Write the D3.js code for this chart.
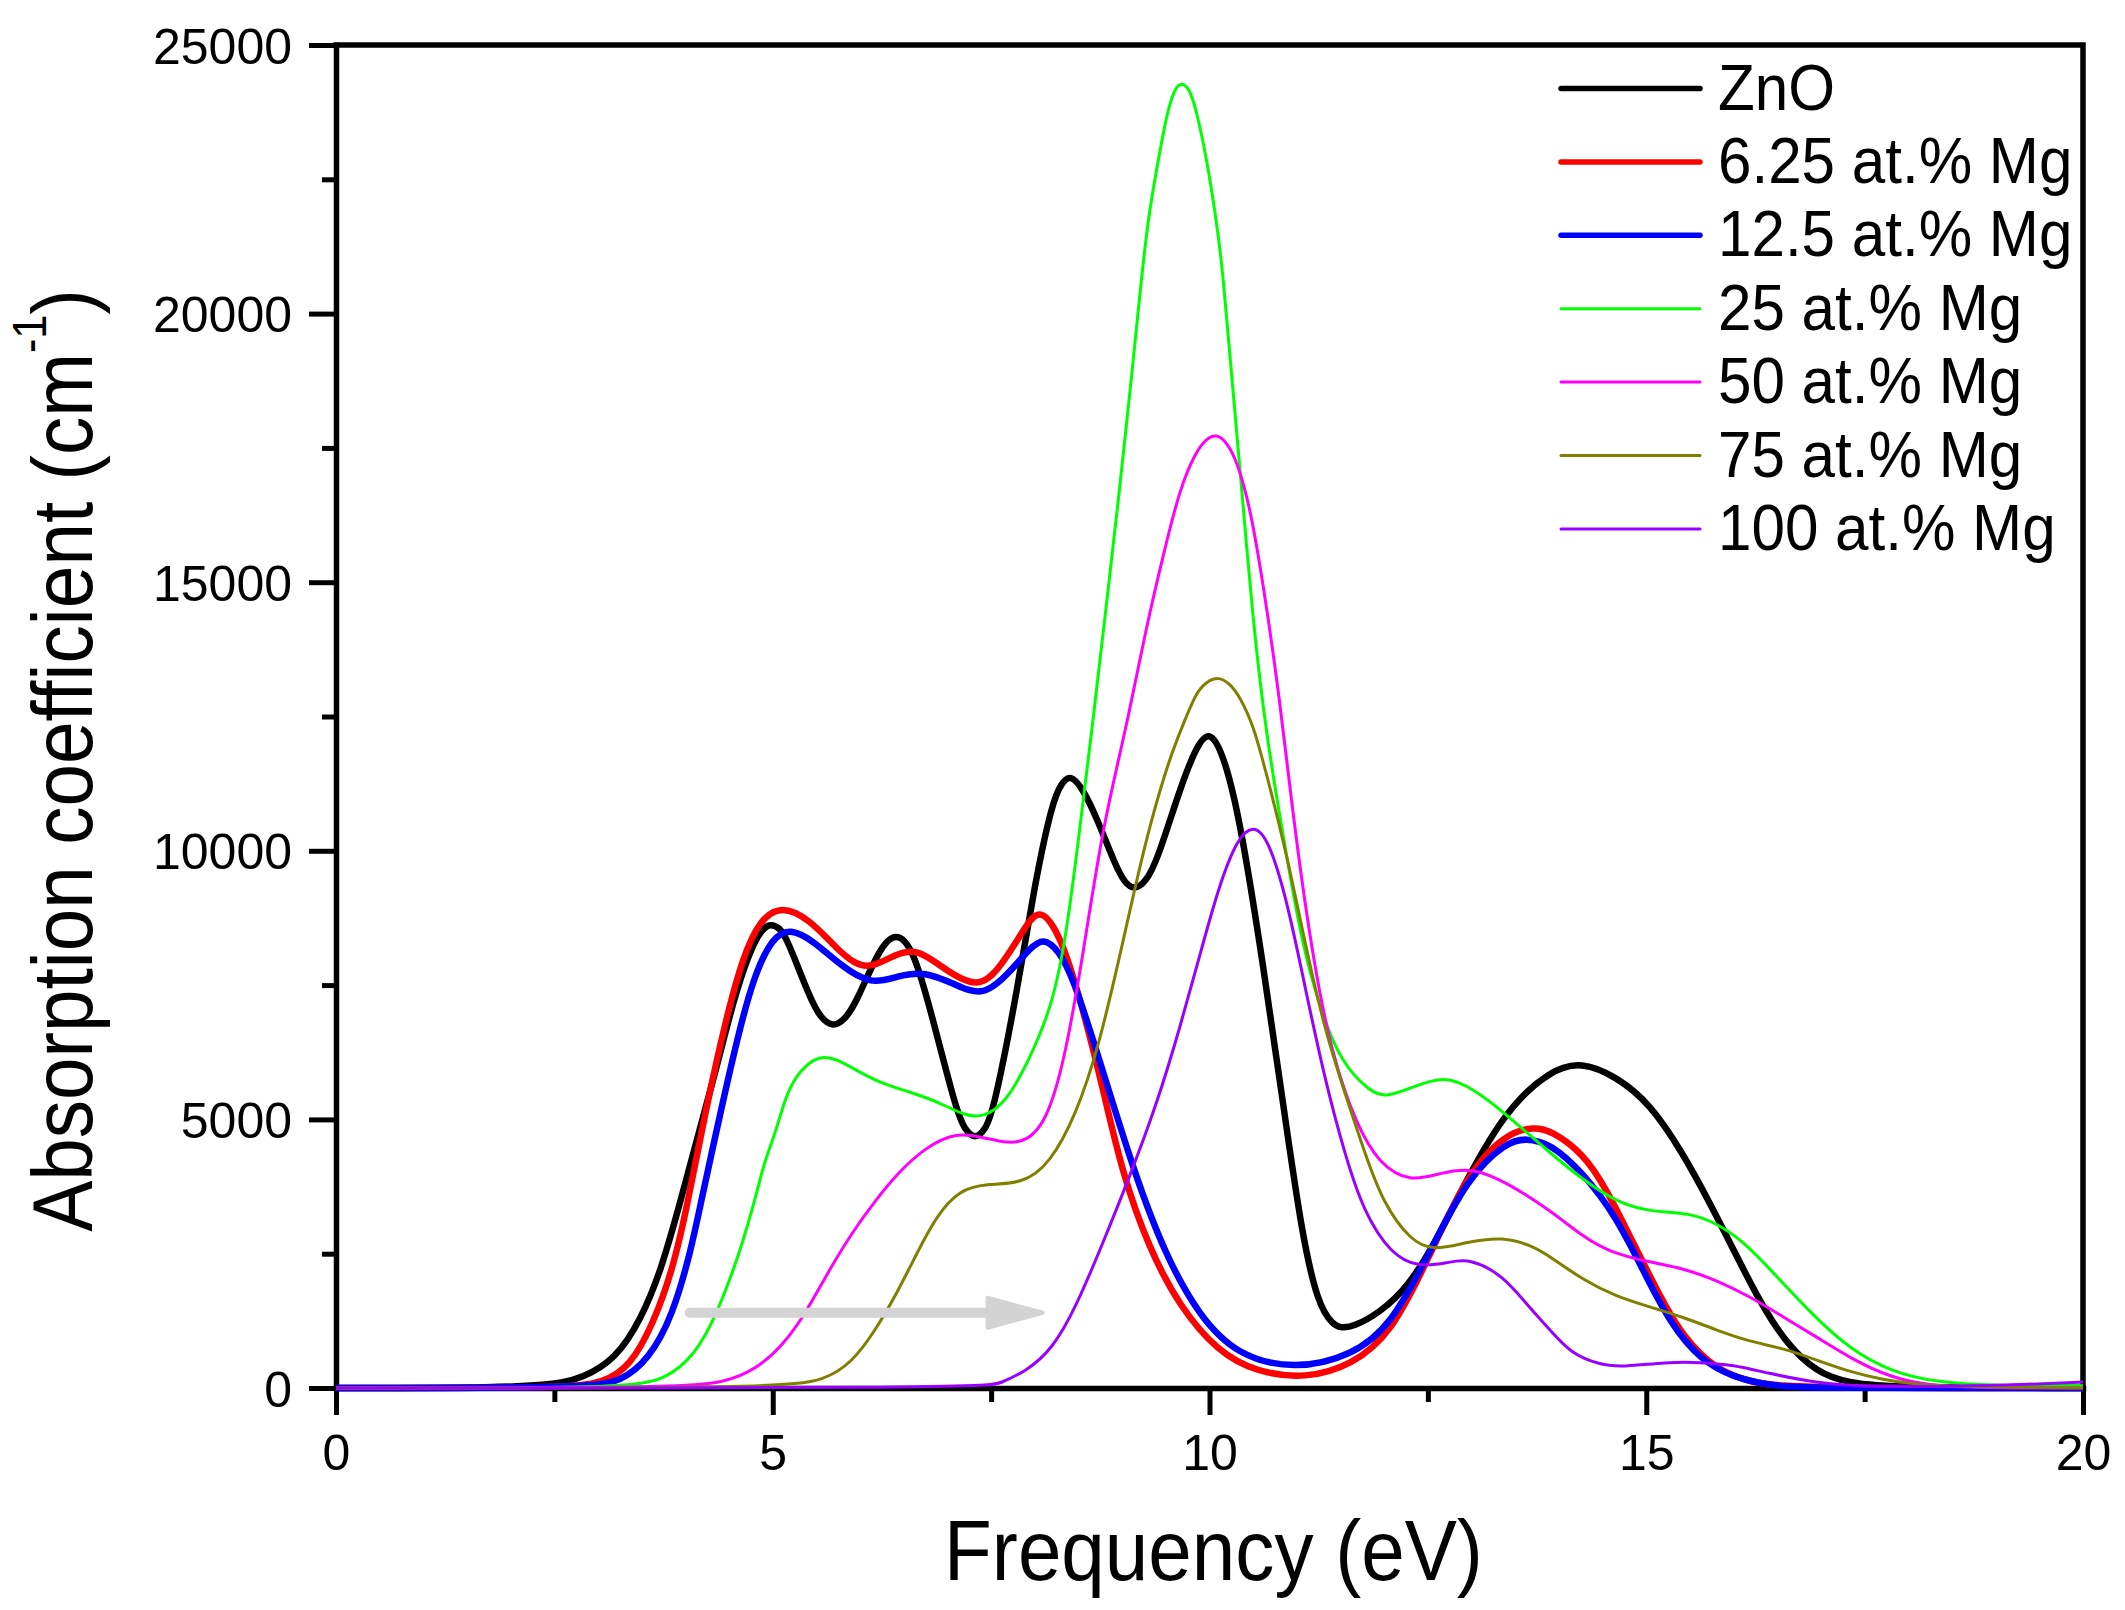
<!DOCTYPE html>
<html lang="en">
  <head>
    <meta charset="utf-8">
    <title>Absorption coefficient - ZnO / Mg</title>
    <script src="https://d3js.org/d3.v7.min.js" charset="utf-8"></script>
    <style>
      body { margin: 0; background: #fff; }
      text { font-family: "Liberation Sans", Arial, sans-serif; fill: #000; }
    </style>
  </head>
  <body>
    <div id="dataviz"></div>
  <script type="text/javascript">
    // [frequency (eV), absorption coefficient (cm^-1)]
    var seriesNames = ["ZnO", "6.25 at.% Mg", "12.5 at.% Mg", "25 at.% Mg", "50 at.% Mg", "75 at.% Mg", "100 at.% Mg"];
    var seriesColors = ["#000000", "#ff0000", "#0000ff", "#00ff00", "#ff00ff", "#808000", "#9900ff"];
    var seriesWidths = [6.5, 6.5, 6.5, 3, 3, 3, 3];

    var zno = [[0,0],[2.4,0],[2.84,190],[3.2,540],[3.49,1270],[3.72,2180],[3.94,3450],[4.17,4860],[4.36,5980],
      [4.55,7220],[4.74,8150],[4.88,8555],[4.98,8640],[5.08,8560],[5.16,8380],[5.42,7280],[5.55,6880],[5.69,6720],
      [5.82,6850],[5.95,7150],[6.22,8190],[6.41,8500],[6.61,8190],[6.83,6890],[7.1,5170],[7.2,4800],[7.32,4630],
      [7.43,4800],[7.53,5170],[7.8,7400],[8.0,9400],[8.2,10900],[8.3,11250],[8.41,11430],[8.55,11150],[8.7,10650],
      [8.92,9740],[9.03,9400],[9.14,9270],[9.27,9420],[9.4,9810],[9.66,11150],[9.85,11950],[10.01,12270],
      [10.18,11700],[10.36,10480],[10.62,7820],[10.84,5320],[11.06,2830],[11.24,1580],[11.4,1180],[11.59,1040],
      [12.3,1750],[12.87,3670],[13.38,5160],[13.9,5920],[14.26,6075],[14.66,5795],[15.04,5300],[15.42,4370],
      [15.73,3440],[16.0,2570],[16.27,1700],[16.57,890],[16.95,280],[17.33,90],[17.8,10],[20,0]];

    var mg625 = [[0,0],[2.6,0],[3.06,90],[3.37,410],[3.63,1190],[3.85,2180],[4.01,3300],[4.24,5240],[4.47,6910],
      [4.66,8030],[4.85,8710],[5.1,8990],[5.43,8710],[5.69,8250],[5.95,7860],[6.15,7840],[6.39,8060],[6.65,8190],
      [6.96,7800],[7.36,7410],[7.62,7860],[7.89,8580],[7.98,8780],[8.08,8850],[8.2,8650],[8.35,8150],[8.56,7000],
      [8.78,5580],[9.0,4000],[9.31,2590],[9.66,1510],[10.1,670],[10.53,300],[11.1,170],[11.63,430],[12.08,1010],
      [12.51,2420],[12.95,4000],[13.4,4750],[13.72,4860],[13.9,4800],[14.28,4370],[14.55,3690],[14.85,2700],
      [15.16,1700],[15.42,950],[15.8,340],[16.19,110],[16.6,0],[20,0]];

    var mg125 = [[0,0],[2.8,0],[3.27,110],[3.58,540],[3.85,1320],[4.07,2600],[4.17,3400],[4.4,5120],[4.59,6480],
      [4.78,7660],[5.0,8400],[5.2,8560],[5.47,8320],[5.78,7860],[6.13,7500],[6.43,7670],[6.74,7760],[7.1,7500],
      [7.41,7280],[7.71,7730],[7.95,8200],[8.1,8380],[8.27,8150],[8.44,7650],[8.78,5900],[9.14,4000],[9.49,2490],
      [9.88,1340],[10.32,600],[10.98,340],[11.63,600],[12.08,1170],[12.51,2490],[12.95,3910],[13.4,4580],
      [13.62,4650],[13.9,4560],[14.28,4000],[14.66,3180],[14.96,2200],[15.27,1210],[15.62,520],[16.0,190],
      [16.5,20],[17,0],[20,0]];

    var mg25 = [[0,0],[3.3,0],[3.77,150],[4.11,610],[4.37,1400],[4.64,2600],[4.82,3650],[4.89,4120],[4.97,4490],
      [5.05,4860],[5.16,5490],[5.31,5920],[5.57,6260],[5.91,5960],[6.22,5680],[6.57,5510],[6.92,5310],[7.18,5080],
      [7.41,5030],[7.67,5310],[7.93,6090],[8.19,7070],[8.35,8300],[8.5,10200],[8.65,12200],[8.8,14300],
      [8.97,16700],[9.13,19170],[9.28,21620],[9.38,22550],[9.51,23730],[9.6,24190],[9.68,24310],[9.77,24190],
      [9.85,23790],[9.97,22860],[10.06,21930],[10.14,21000],[10.23,19270],[10.35,17100],[10.5,14200],
      [10.66,12040],[10.84,10310],[11.06,8230],[11.28,7000],[11.5,6070],[11.85,5490],[12.03,5420],[12.3,5580],
      [12.69,5830],[13.04,5550],[13.38,5120],[13.9,4370],[14.28,3870],[14.66,3460],[15.04,3280],[15.5,3260],
      [15.8,3070],[16.1,2750],[16.5,2070],[16.88,1400],[17.33,720],[17.81,300],[18.3,110],[19,40],[20,40]];

    var mg50 = [[0,0],[3.9,0],[4.47,110],[4.81,350],[5.12,800],[5.38,1400],[5.64,2180],[5.91,2900],[6.17,3480],
      [6.43,4000],[6.74,4470],[7.1,4770],[7.44,4650],[7.84,4500],[8.13,4910],[8.35,6160],[8.56,8150],[8.78,10480],
      [9.05,12300],[9.28,14200],[9.47,15500],[9.66,16750],[9.85,17450],[9.97,17680],[10.08,17760],[10.2,17600],
      [10.31,17270],[10.46,16440],[10.61,15020],[10.8,12900],[10.98,10310],[11.2,7820],[11.41,6160],[11.68,4910],
      [11.94,4170],[12.3,3830],[12.64,4000],[13.0,4110],[13.4,3830],[13.9,3310],[14.28,2810],[14.58,2530],
      [15.04,2340],[15.42,2230],[15.8,2010],[16.19,1700],[16.57,1320],[16.95,950],[17.33,560],[17.81,180],
      [18.3,30],[19,0],[20,0]];

    var mg75 = [[0,0],[5.1,0],[5.6,150],[5.91,480],[6.17,1060],[6.43,1790],[6.65,2510],[6.88,3220],[7.14,3690],
      [7.44,3800],[7.86,3800],[8.17,4170],[8.47,5080],[8.73,6330],[9.0,8230],[9.26,10150],[9.52,11630],[9.7,12360],
      [9.85,12960],[9.97,13150],[10.1,13240],[10.23,13120],[10.35,12860],[10.5,12350],[10.65,11450],[10.89,9900],
      [11.1,8230],[11.32,6660],[11.55,5490],[11.77,4410],[11.99,3430],[12.3,2750],[12.56,2550],[12.95,2720],
      [13.36,2820],[13.72,2630],[13.9,2440],[14.28,2010],[14.66,1700],[15.04,1510],[15.42,1320],[15.8,1080],
      [16.19,860],[16.57,740],[16.95,520],[17.33,300],[17.7,160],[18.05,70],[18.6,20],[20,0]];

    var mg100 = [[0,0],[7.45,0],[7.6,90],[7.9,310],[8.2,720],[8.47,1500],[8.78,2700],[9.09,3950],[9.4,5300],
      [9.66,6700],[9.88,8000],[10.1,9310],[10.32,10240],[10.5,10480],[10.67,10240],[10.89,9070],[11.1,7410],
      [11.32,5750],[11.55,4340],[11.77,3260],[12.08,2490],[12.38,2250],[12.73,2330],[12.97,2420],[13.36,2100],
      [13.66,1500],[13.9,1080],[14.13,650],[14.47,430],[14.73,390],[15.23,480],[15.61,480],[16.0,430],
      [16.38,280],[16.95,90],[17.5,20],[18.5,30],[19.3,60],[20,110]];

    var seriesValues = [zno, mg625, mg125, mg25, mg50, mg75, mg100];

    var xMajor = [0, 5, 10, 15, 20];
    var xMinor = [2.5, 7.5, 12.5, 17.5];
    var yMajor = [0, 5000, 10000, 15000, 20000, 25000];
    var yMinor = [2500, 7500, 12500, 17500, 22500];

    // grey arrow (eV from, eV to, height)
    var arrowFrom = 4.05, arrowHead = 7.46, arrowTo = 8.09, arrowAt = 1400;

    var W = 2125, H = 1610;
    var margin = {top: 45, right: 42, bottom: 222, left: 336};

    var svg = d3.select("#dataviz")
      .append("svg")
        .attr("width", W)
        .attr("height", H);

    svg.append("rect").attr("width", W).attr("height", H).attr("fill", "#fff");

    var x = d3.scaleLinear().domain([0, 20]).range([margin.left, W - margin.right]);
    var y = d3.scaleLinear().domain([0, 25000]).range([H - margin.bottom, margin.top]);

    var axisW = 5.5;

    // x axis
    var gx = svg.append("g")
      .attr("transform", "translate(0," + y(0) + ")")
      .call(d3.axisBottom(x).tickValues(xMajor).tickSize(27).tickSizeOuter(0).tickFormat(d3.format("d")));
    gx.append("g")
      .call(d3.axisBottom(x).tickValues(xMinor).tickSize(14).tickSizeOuter(0).tickFormat(""))
      .select(".domain").remove();

    // y axis
    var gy = svg.append("g")
      .attr("transform", "translate(" + x(0) + ",0)")
      .call(d3.axisLeft(y).tickValues(yMajor).tickSize(27).tickSizeOuter(0).tickFormat(d3.format("d")));
    gy.append("g")
      .call(d3.axisLeft(y).tickValues(yMinor).tickSize(14).tickSizeOuter(0).tickFormat(""))
      .select(".domain").remove();

    svg.selectAll(".domain").attr("stroke", "#000").attr("stroke-width", axisW).attr("stroke-linecap", "square");
    svg.selectAll(".tick line").attr("stroke", "#000").attr("stroke-width", 5);
    svg.selectAll(".tick text")
      .style("font-family", "'Liberation Sans', Arial, sans-serif")
      .attr("font-size", 50)
      .attr("fill", "#000");
    gx.selectAll(".tick text").attr("y", 82).attr("dy", null);
    gy.selectAll(".tick text").attr("x", -44).attr("dy", "0.36em");

    // frame top + right
    svg.append("path")
      .attr("d", "M" + x(0) + "," + y(25000) + "H" + x(20) + "V" + y(0))
      .attr("fill", "none")
      .attr("stroke", "#000")
      .attr("stroke-width", axisW)
      .attr("stroke-linecap", "square");

    // curves (B-spline through the read points, smooths the reading noise)
    var line = d3.line()
      .x(function(d) { return x(d[0]); })
      .y(function(d) { return y(d[1]); })
      .curve(d3.curveBasis);

    svg.append("g").selectAll("path")
      .data(seriesValues)
      .enter()
      .append("path")
        .attr("d", line)
        .attr("fill", "none")
        .attr("stroke", function(d, i) { return seriesColors[i]; })
        .attr("stroke-width", function(d, i) { return seriesWidths[i]; })
        .attr("stroke-linejoin", "round");

    // arrow
    var ay = y(arrowAt);
    svg.append("line")
      .attr("x1", x(arrowFrom)).attr("x2", x(arrowHead) + 2)
      .attr("y1", ay).attr("y2", ay)
      .attr("stroke", "#d3d3d3")
      .attr("stroke-width", 10)
      .attr("stroke-linecap", "round");
    svg.append("path")
      .attr("d", "M" + x(arrowHead) + "," + (ay - 15) + "L" + x(arrowTo) + "," + ay + "L" + x(arrowHead) + "," + (ay + 15) + "Z")
      .attr("fill", "#d3d3d3")
      .attr("stroke", "#d3d3d3")
      .attr("stroke-width", 4)
      .attr("stroke-linejoin", "round");

    // legend
    var legend = svg.append("g");
    var legendItem = legend.selectAll("g")
      .data(seriesNames)
      .enter()
      .append("g")
        .attr("transform", function(d, i) { return "translate(0," + (88.5 + i * 73.4) + ")"; });
    legendItem.append("line")
      .attr("x1", 1561).attr("x2", 1700)
      .attr("stroke", function(d, i) { return seriesColors[i]; })
      .attr("stroke-width", function(d, i) { return i < 3 ? 5.5 : 3; })
      .attr("stroke-linecap", "round");
    legendItem.append("text")
      .attr("transform", "translate(1718,21) scale(0.94,1)")
      .attr("font-size", 64)
      .text(function(d) { return d; });

    // axis titles
    svg.append("text")
      .attr("transform", "translate(" + ((x(0) + x(20)) / 2 + 4) + ",1580) scale(0.92,1)")
      .attr("text-anchor", "middle")
      .attr("font-size", 85)
      .text("Frequency (eV)");

    var yt = svg.append("text")
      .attr("transform", "translate(92," + ((y(0) + y(25000)) / 2 + 44) + ") rotate(-90) scale(0.9,1)")
      .attr("text-anchor", "middle")
      .attr("font-size", 85);
    yt.append("tspan").text("Absorption coefficient (cm");
    yt.append("tspan").attr("font-size", 48).attr("dy", -46).text("-1");
    yt.append("tspan").attr("dy", 46).text(")");
  </script>
  </body>
</html>
